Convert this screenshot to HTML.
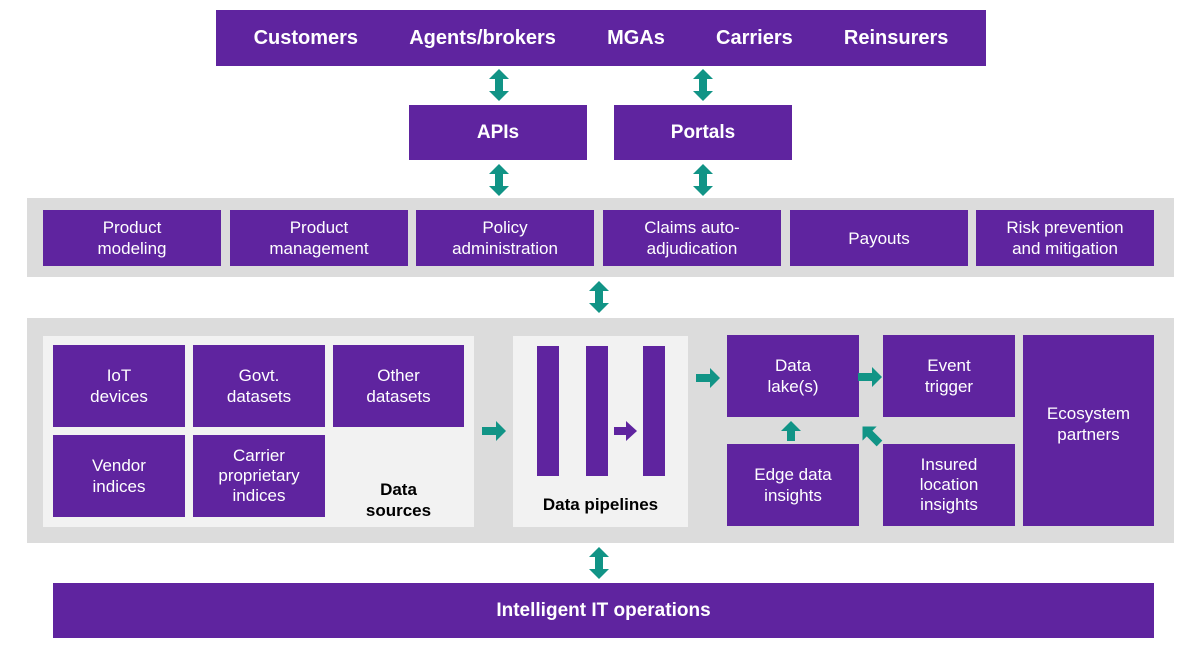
<!DOCTYPE html>
<html><head><meta charset="utf-8"><style>
body{margin:0;width:1200px;height:649px;background:#fff;position:relative;overflow:hidden;font-family:"Liberation Sans",sans-serif}
.a{position:absolute;box-sizing:border-box}
.p{background:#5f249f;color:#fff;display:flex;align-items:center;justify-content:center;text-align:center;font-size:17px;line-height:21px}
.g{background:#dcdcdc}
.l{background:#f2f2f2}
.b{font-weight:bold}
svg{position:absolute;left:0;top:0}
</style></head><body>
<div class="a p b" style="left:216px;top:10px;width:770px;height:56px;font-size:20px;justify-content:space-around;padding:0 12px">
<span>Customers</span><span>Agents/brokers</span><span>MGAs</span><span>Carriers</span><span>Reinsurers</span></div>
<div class="a p b" style="left:409px;top:105px;width:178px;height:55px;font-size:19px">APIs</div>
<div class="a p b" style="left:614px;top:105px;width:178px;height:55px;font-size:19px">Portals</div>

<div class="a g" style="left:27px;top:198px;width:1147px;height:79px"></div>
<div class="a p" style="left:43px;top:210px;width:178px;height:56px">Product<br>modeling</div>
<div class="a p" style="left:230px;top:210px;width:178px;height:56px">Product<br>management</div>
<div class="a p" style="left:416px;top:210px;width:178px;height:56px">Policy<br>administration</div>
<div class="a p" style="left:603px;top:210px;width:178px;height:56px">Claims auto-<br>adjudication</div>
<div class="a p" style="left:790px;top:210px;width:178px;height:56px">Payouts</div>
<div class="a p" style="left:976px;top:210px;width:178px;height:56px">Risk prevention<br>and mitigation</div>

<div class="a g" style="left:27px;top:318px;width:1147px;height:225px"></div>
<div class="a l" style="left:43px;top:336px;width:431px;height:191px"></div>
<div class="a p" style="left:53px;top:345px;width:132px;height:82px">IoT<br>devices</div>
<div class="a p" style="left:193px;top:345px;width:132px;height:82px">Govt.<br>datasets</div>
<div class="a p" style="left:333px;top:345px;width:131px;height:82px">Other<br>datasets</div>
<div class="a p" style="left:53px;top:435px;width:132px;height:82px">Vendor<br>indices</div>
<div class="a p" style="left:193px;top:435px;width:132px;height:82px;line-height:20px">Carrier<br>proprietary<br>indices</div>
<div class="a b" style="left:333px;top:479px;width:131px;text-align:center;font-size:17px;line-height:21px;color:#000">Data<br>sources</div>

<div class="a l" style="left:513px;top:336px;width:175px;height:191px"></div>
<div class="a" style="left:537px;top:346px;width:22px;height:130px;background:#5f249f"></div>
<div class="a" style="left:586px;top:346px;width:22px;height:130px;background:#5f249f"></div>
<div class="a" style="left:643px;top:346px;width:22px;height:130px;background:#5f249f"></div>
<div class="a b" style="left:513px;top:495px;width:175px;text-align:center;font-size:17px;color:#000">Data pipelines</div>

<div class="a p" style="left:727px;top:335px;width:132px;height:82px">Data<br>lake(s)</div>
<div class="a p" style="left:883px;top:335px;width:132px;height:82px">Event<br>trigger</div>
<div class="a p" style="left:727px;top:444px;width:132px;height:82px">Edge data<br>insights</div>
<div class="a p" style="left:883px;top:444px;width:132px;height:82px;line-height:20px">Insured<br>location<br>insights</div>
<div class="a p" style="left:1023px;top:335px;width:131px;height:191px;align-items:flex-start;padding-top:68px">Ecosystem<br>partners</div>

<div class="a p b" style="left:53px;top:583px;width:1101px;height:55px;font-size:19px">Intelligent IT operations</div>

<svg width="1200" height="649">
<defs>
<g id="dv"><polygon points="0,-16 10,-6 4,-6 4,6 10,6 0,16 -10,6 -4,6 -4,-6 -10,-6" fill="#119486"/></g>
<g id="rt"><polygon points="-12,-4 2,-4 2,-10 12,0 2,10 2,4 -12,4" fill="#119486"/></g>
</defs>
<use href="#dv" x="499" y="85"/>
<use href="#dv" x="703" y="85"/>
<use href="#dv" x="499" y="180"/>
<use href="#dv" x="703" y="180"/>
<use href="#dv" x="599" y="297"/>
<use href="#dv" x="599" y="563"/>
<use href="#rt" x="494" y="431"/>
<use href="#rt" x="708" y="378"/>
<use href="#rt" x="870" y="377"/>
<polygon points="614,427 626,427 626,421 637,431 626,441 626,435 614,435" fill="#5f249f"/>
<polygon points="787,441 787,431 781,431 791,421 801,431 795,431 795,441" fill="#119486"/>
<use href="#rt" transform="translate(871,435) rotate(-135)"/>
</svg>
</body></html>
